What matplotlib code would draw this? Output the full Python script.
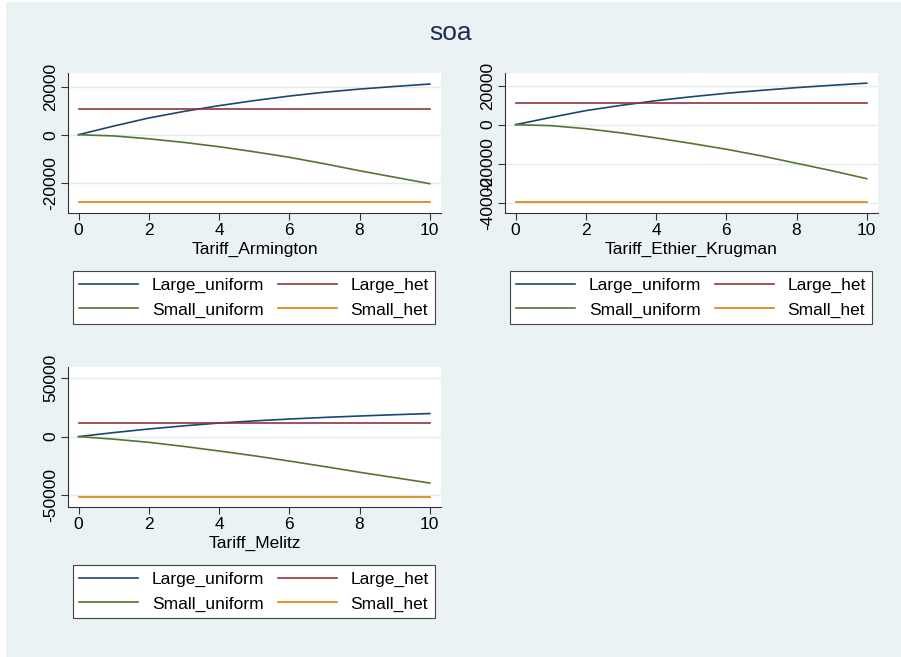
"""Combined soa tariff panels, Stata s2color look."""

import matplotlib

matplotlib.use("Agg")
import matplotlib.pyplot as plt
from matplotlib.patches import Rectangle

plt.rcParams["font.family"] = ["Liberation Sans", "DejaVu Sans"]

BG = "#eaf2f3"
NAVY = "#1a476f"
MAROON = "#90353b"
GREEN = "#55752f"
ORANGE = "#e37e00"

tariff = [0, 1, 2, 3, 4, 5, 6, 7, 8, 9, 10]

# Armington
arm_large_uniform = [0, 3600, 6960, 9700, 12100, 14200, 16100, 17700, 19000, 20100, 21100]
arm_large_het = 10700
arm_small_uniform = [0, -500, -1700, -3200, -5000, -7100, -9400, -12100, -15000, -17700, -20400]
arm_small_het = -28200

# Ethier-Krugman
ek_large_uniform = [0, 3700, 7200, 9900, 12300, 14300, 16100, 17600, 19000, 20200, 21300]
ek_large_het = 11300
ek_small_uniform = [0, -500, -2050, -4200, -6800, -9600, -12600, -16000, -19800, -23600, -27700]
ek_small_het = -39800

# Melitz
mel_large_uniform = [0, 3400, 6500, 9200, 11600, 13400, 15000, 16400, 17600, 18700, 19700]
mel_large_het = 11600
mel_small_uniform = [0, -2200, -4900, -8400, -12300, -16400, -20900, -25600, -30500, -35100, -39700]
mel_small_het = -51600

panels = [
    dict(title="Tariff_Armington", lu=arm_large_uniform, lh=arm_large_het,
         su=arm_small_uniform, sh=arm_small_het, yticks=[-20000, 0, 20000],
         ylim=(-32600, 25700)),
    dict(title="Tariff_Ethier_Krugman", lu=ek_large_uniform, lh=ek_large_het,
         su=ek_small_uniform, sh=ek_small_het, yticks=[-40000, -20000, 0, 20000],
         ylim=(-45300, 26500)),
    dict(title="Tariff_Melitz", lu=mel_large_uniform, lh=mel_large_het,
         su=mel_small_uniform, sh=mel_small_het, yticks=[-50000, 0, 50000],
         ylim=(-60200, 59500)),
]

W, H = 901, 657
axes_px = [(68, 73, 441, 213), (505, 73, 878, 213), (68, 367, 441, 507)]
legend_px = [(73, 268, 435, 327), (510, 268, 872, 327), (73, 562, 435, 621)]
xlabel_px = [249, 249, 543]


def fx(px):
    return px / W


def fy(py):
    return 1 - py / H


fig = plt.figure(figsize=(W / 100, H / 100), dpi=100, facecolor="white")
fig.patches.append(Rectangle((fx(6), 0), 1, fy(2), transform=fig.transFigure,
                             facecolor=BG, edgecolor="none", zorder=-10))
fig.text(0.5, fy(33), "soa", ha="center", va="center", fontsize=19, color="#1c2b4f")

for panel, (l, t, r, b), (ll, lt, lr, lb), xl in zip(panels, axes_px, legend_px, xlabel_px):
    ax = fig.add_axes([fx(l), fy(b), fx(r) - fx(l), fy(t) - fy(b)])
    ax.set_facecolor("white")
    n = len(tariff)
    h1, = ax.plot(tariff, panel["lu"], color=NAVY, lw=1.2)
    h2, = ax.plot(tariff, [panel["lh"]] * n, color=MAROON, lw=1.2)
    h3, = ax.plot(tariff, panel["su"], color=GREEN, lw=1.2)
    h4, = ax.plot(tariff, [panel["sh"]] * n, color=ORANGE, lw=1.2)
    ax.set_xlim(-0.3, 10.32)
    ax.set_ylim(*panel["ylim"])
    ax.set_xticks([0, 2, 4, 6, 8, 10])
    ax.set_yticks(panel["yticks"])
    ax.set_yticklabels([str(v) for v in panel["yticks"]], rotation=90, va="center")
    ax.tick_params(labelsize=12.5, length=5, width=0.8, color="#333333", pad=2)
    ax.grid(axis="y", color="#e3ecee", lw=1.0)
    ax.set_axisbelow(True)
    for side in ("top", "right"):
        ax.spines[side].set_visible(False)
    for side in ("left", "bottom"):
        ax.spines[side].set_color("#333333")
        ax.spines[side].set_linewidth(0.8)
    fig.text((fx(l) + fx(r)) / 2, fy(xl), panel["title"], ha="center", va="center",
             fontsize=12.5)
    # column-major order so Large_uniform / Large_het share the first row
    leg = fig.legend([h1, h3, h2, h4],
                     ["Large_uniform", "Small_uniform", "Large_het", "Small_het"],
                     ncol=2, loc="center",
                     bbox_to_anchor=(fx(ll), fy(lb), fx(lr) - fx(ll), fy(lt) - fy(lb)),
                     mode="expand", borderaxespad=0, fontsize=12.5, handlelength=3.4,
                     handletextpad=0.8, labelspacing=0.55, fancybox=False,
                     framealpha=1, edgecolor="#444444", borderpad=0.35)
    leg.get_frame().set_linewidth(0.8)

fig.savefig("out.png", dpi=100, facecolor=fig.get_facecolor())
